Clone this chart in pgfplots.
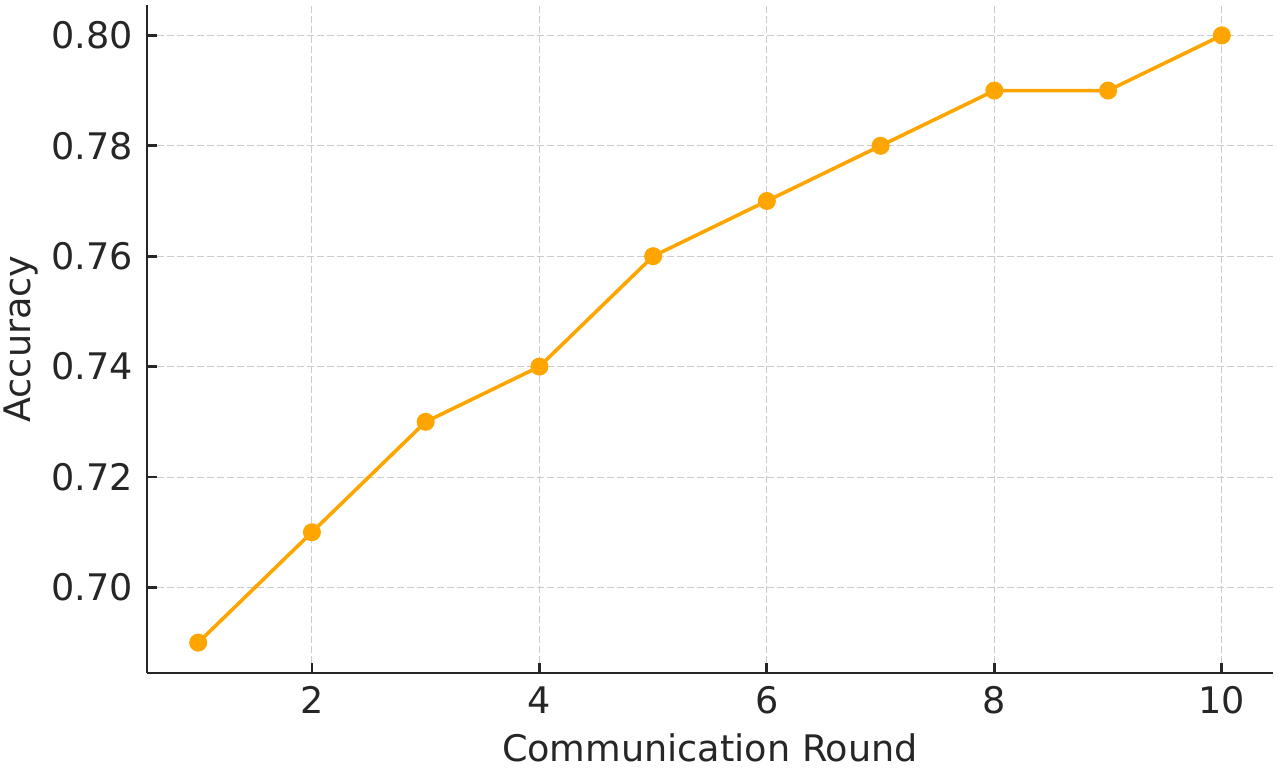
\documentclass[border=0pt]{standalone}
\usepackage{fontspec}
\setmainfont{DejaVu Sans}
\usepackage{pgfplots}
\pgfplotsset{compat=1.18}

\definecolor{lineorange}{HTML}{FFA500}
\definecolor{spine}{HTML}{262626}
\definecolor{gridgray}{HTML}{CCCCCC}

\begin{document}
\begin{tikzpicture}
\path[use as bounding box] (-73.5pt,-47pt) rectangle (566.5pt,336.5pt);
\begin{axis}[
    at={(0,0)}, anchor=south west,
    scale only axis,
    width=563pt, height=334pt,
    xmin=0.55, xmax=10.45,
    ymin=0.6845, ymax=0.8055,
    axis x line*=bottom,
    axis y line*=left,
    axis line style={line width=1.4pt, spine},
    xtick={2,4,6,8,10},
    ytick={0.70,0.72,0.74,0.76,0.78,0.80},
    tick align=inside,
    major tick length=5pt,
    tick style={line width=1.4pt, spine},
    grid=major,
    major grid style={line width=0.5pt, gridgray, dash pattern=on 3.5pt off 1.5pt},
    font=\fontsize{18.3}{22}\selectfont,
    /pgf/number format/assume math mode=true,
    yticklabel style={/pgf/number format/fixed, /pgf/number format/fixed zerofill, /pgf/number format/precision=2},
    xticklabel style={anchor=north, inner sep=0pt, yshift=-6.5pt, text=spine},
    yticklabel style={anchor=east, inner sep=0pt, xshift=-7pt, text=spine},
    xlabel={Communication Round},
    ylabel={Accuracy},
    xlabel style={at={(axis description cs:0.5,0)}, anchor=base, yshift=-44pt, text=spine},
    ylabel style={at={(axis description cs:-0.1115,0.5)}, anchor=center, text=spine},
    ]
\addplot[color=lineorange, line width=1.8pt, mark=*, mark size=4.2pt,
    mark options={solid, fill=lineorange, draw=lineorange, line width=0.6pt}]
    coordinates {
    (1,0.69)
    (2,0.71)
    (3,0.73)
    (4,0.74)
    (5,0.76)
    (6,0.77)
    (7,0.78)
    (8,0.79)
    (9,0.79)
    (10,0.80)
    };
\end{axis}
\end{tikzpicture}
\end{document}
